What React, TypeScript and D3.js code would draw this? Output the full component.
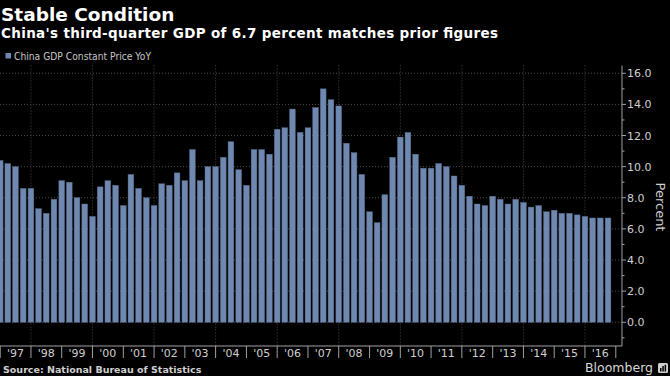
import React from "react";
import * as d3 from "d3";

// Quarterly China GDP YoY (%), 1996 Q4 .. 2016 Q3
const startYear = 1996;
const startQuarter = 4;
const gdpYoY = [
  10.4,
  10.2, 10.0, 8.6, 8.6,
  7.3, 7.0, 7.9, 9.1,
  9.0, 8.0, 7.6, 6.8,
  8.7, 9.1, 8.8, 7.5,
  9.5, 8.6, 8.0, 7.5,
  8.9, 8.8, 9.6, 9.1,
  11.1, 9.1, 10.0, 10.0,
  10.6, 11.6, 9.8, 8.8,
  11.1, 11.1, 10.8, 12.4,
  12.5, 13.7, 12.2, 12.5,
  13.8, 15.0, 14.3, 13.9,
  11.5, 10.9, 9.5, 7.1,
  6.4, 8.2, 10.6, 11.9,
  12.2, 10.8, 9.9, 9.9,
  10.2, 10.0, 9.4, 8.8,
  8.1, 7.6, 7.5, 8.1,
  7.9, 7.6, 7.9, 7.7,
  7.4, 7.5, 7.1, 7.2,
  7.0, 7.0, 6.9, 6.8,
  6.7, 6.7, 6.7,
];
const yearLabels = ["'97", "'98", "'99", "'00", "'01", "'02", "'03", "'04", "'05", "'06", "'07", "'08", "'09", "'10", "'11", "'12", "'13", "'14", "'15", "'16"];
const firstLabelYear = 1997;
const yTicks = [0, 2, 4, 6, 8, 10, 12, 14, 16];
const yMinorTicks = [-1, 1, 3, 5, 7, 9, 11, 13, 15];
const gridYears = [1998, 2000, 2002, 2004, 2006, 2008, 2010, 2012, 2014, 2016];

const title = "Stable Condition";
const subtitle = "China's third-quarter GDP of 6.7 percent matches prior figures";
const legendLabel = "China GDP Constant Price YoY";
const source = "Source: National Bureau of Statistics";

const BAR = "#6f88b0";
const SANS = "'DejaVu Sans', sans-serif";

// quarter end (start of next quarter) dates for each bar
const quarterEnds = gdpYoY.map((_, i) => new Date(startYear, 3 * (startQuarter + i), 1));

export default function App() {
  const W = 670, H = 376;
  const axisX = 622;
  const axisY = 346;
  const x = d3.scaleTime()
    .domain([new Date(1997, 0, 1), new Date(2017, 0, 1)])
    .range([0.2, 615.8]);
  const y = d3.scaleLinear().domain([-1.5, 16.5]).range([345.6, 65.5]);
  const barW = 5.7;
  const yearBounds = d3.range(firstLabelYear, firstLabelYear + yearLabels.length + 1);

  return (
    <svg width={W} height={H} style={{ position: "absolute", left: 0, top: 0, background: "#000" }}>
      <rect x={0} y={0} width={W} height={H} fill="#000" />
      <text x={1} y={20.5} fill="#fff" fontFamily={SANS} fontWeight="bold" fontSize={18.5}>{title}</text>
      <text x={1} y={38} fill="#fff" fontFamily={SANS} fontWeight="bold" fontSize={13.5} textLength={497} lengthAdjust="spacing">{subtitle}</text>
      <rect x={5.5} y={53} width={5.5} height={5.5} fill={BAR} />
      <text x={14} y={60} fill="#c8c8c8" fontFamily={SANS} fontSize={10.5} textLength={137} lengthAdjust="spacingAndGlyphs">{legendLabel}</text>

      {/* horizontal grid */}
      {yTicks.map((t) => (
        <line key={"hg" + t} x1={0} x2={axisX} y1={y(t)} y2={y(t)} stroke="#4a4a4a" strokeWidth={1} strokeDasharray="1,2" />
      ))}
      {/* vertical grid */}
      {gridYears.map((yr) => (
        <line key={"vg" + yr} x1={x(new Date(yr, 0, 1))} x2={x(new Date(yr, 0, 1))} y1={y(16.5)} y2={axisY} stroke="#4a4a4a" strokeWidth={1} strokeDasharray="1,2" />
      ))}

      {/* bars */}
      {gdpYoY.map((v, i) => (
        <rect key={"b" + i} x={x(quarterEnds[i]) - barW / 2} y={y(v)} width={barW} height={y(0) - y(v)} fill={BAR} stroke="#5a6f92" strokeWidth={0.4} />
      ))}

      {/* axes */}
      <line x1={axisX} x2={axisX} y1={y(16.5)} y2={axisY} stroke="#a0a0a0" strokeWidth={1} />
      <line x1={0} x2={axisX} y1={axisY} y2={axisY} stroke="#a0a0a0" strokeWidth={1} />
      {yTicks.map((t) => (
        <g key={"yt" + t}>
          <line x1={axisX} x2={axisX + 4} y1={y(t)} y2={y(t)} stroke="#a0a0a0" />
          <text x={axisX + 5} y={y(t) + 4} fill="#d0d0d0" fontFamily={SANS} fontSize={11}>{t.toFixed(1)}</text>
        </g>
      ))}
      {yMinorTicks.map((t) => (
        <line key={"ym" + t} x1={axisX} x2={axisX + 2.5} y1={y(t)} y2={y(t)} stroke="#a0a0a0" />
      ))}
      <text transform={`translate(655.5,207) rotate(90)`} textAnchor="middle" fill="#d0d0d0" fontFamily={SANS} fontSize={13}>Percent</text>

      {yearBounds.map((yr) => (
        <line key={"xs" + yr} x1={x(new Date(yr, 0, 1))} x2={x(new Date(yr, 0, 1))} y1={axisY} y2={358} stroke="#a0a0a0" />
      ))}
      {yearLabels.map((lab, i) => (
        <text key={"xl" + lab} x={x(new Date(firstLabelYear + i, 6, 1))} y={357} textAnchor="middle" fill="#d0d0d0" fontFamily={SANS} fontSize={11}>{lab}</text>
      ))}

      <text x={3} y={372.5} fill="#d0d0d0" fontFamily={SANS} fontWeight="bold" fontSize={9.5}>{source}</text>
      <text x={585} y={372} fill="#d8d8d8" fontFamily={SANS} fontSize={12.5}>Bloomberg</text>
      <g transform="translate(658,363)">
        <rect x={0} y={0} width={10} height={10} rx={1.5} fill="#d0d0d0" />
        <rect x={2} y={5} width={1.5} height={3.5} fill="#000" />
        <rect x={4.3} y={3} width={1.5} height={5.5} fill="#000" />
        <rect x={6.6} y={1.8} width={1.5} height={6.7} fill="#000" />
      </g>
    </svg>
  );
}
